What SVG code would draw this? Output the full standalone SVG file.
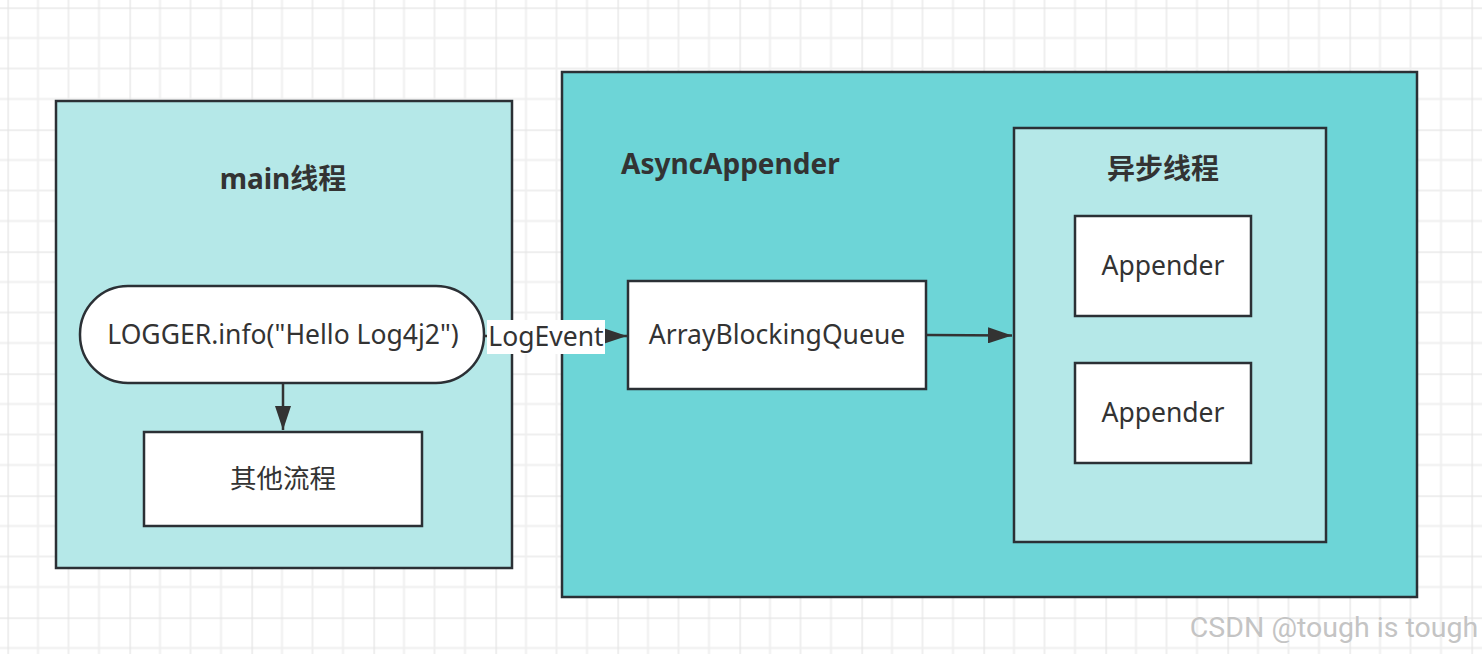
<svg xmlns="http://www.w3.org/2000/svg" width="1482" height="654" viewBox="0 0 1482 654">
<defs>
<pattern id="grid" x="7.5" y="7.5" width="122" height="122" patternUnits="userSpaceOnUse">
<path d="M30.5 0V122M61 0V122M91.5 0V122M0 30.5H122M0 61H122M0 91.5H122" stroke="#efefef" stroke-width="2" fill="none"/>
<path d="M0 0V122M0 0H122" stroke="#e4e4e4" stroke-width="2.5" fill="none"/>
</pattern>
<marker id="ahb" viewBox="0 0 24 16" refX="24" refY="8" markerWidth="24" markerHeight="16" markerUnits="userSpaceOnUse" orient="auto">
<path d="M0 0L24 8L0 16Z" fill="#333"/>
</marker>
<style>
.box{stroke:#2b3035;stroke-width:2.5}
.w{fill:#fff}
.lc{fill:#b5e8e8}
.tc{fill:#6dd5d7}
.t{font-family:"Microsoft YaHei","Noto Sans","Noto Sans CJK SC",sans-serif;font-size:26.5px;fill:#333;text-anchor:middle;dominant-baseline:central}
.b{font-weight:bold;font-size:28px}
.line{stroke:#333;stroke-width:2.5;fill:none}
</style>
</defs>
<rect width="1482" height="654" fill="#fff"/>
<rect width="1482" height="654" fill="url(#grid)"/>
<g id="main-thread">
<rect class="box lc" x="56" y="101" width="456" height="467"/>
<text class="t b" x="283" y="178">main线程</text>
</g>
<g id="logger-call">
<rect class="box w" x="80" y="286" width="404" height="97" rx="48" ry="48"/>
<text class="t" x="283" y="334">LOGGER.info("Hello Log4j2")</text>
</g>
<g id="other-flow">
<rect class="box w" x="144" y="432" width="278" height="94"/>
<text class="t" x="283" y="478">其他流程</text>
</g>
<g id="async-appender">
<rect class="box tc" x="562" y="72" width="855" height="525"/>
<text class="t b" x="621" y="163" style="text-anchor:start">AsyncAppender</text>
</g>
<g id="array-blocking-queue">
<rect class="box w" x="628" y="281" width="298" height="108"/>
<text class="t" x="777" y="334">ArrayBlockingQueue</text>
</g>
<g id="async-thread">
<rect class="box lc" x="1014" y="128" width="312" height="414"/>
<text class="t b" x="1163" y="168">异步线程</text>
</g>
<g id="appender-1">
<rect class="box w" x="1075" y="216" width="176" height="100"/>
<text class="t" x="1163" y="265">Appender</text>
</g>
<g id="appender-2">
<rect class="box w" x="1075" y="363" width="176" height="100"/>
<text class="t" x="1163" y="412">Appender</text>
</g>
<g id="connectors">
<line class="line" x1="283" y1="384" x2="283" y2="430" marker-end="url(#ahb)"/>
<line class="line" x1="485" y1="336" x2="627" y2="336" marker-end="url(#ahb)"/>
<line class="line" x1="927" y1="335" x2="1012" y2="335.5" marker-end="url(#ahb)"/>
<rect x="487" y="320" width="118" height="34" fill="#fff"/>
<text class="t" x="546" y="336">LogEvent</text>
</g>
<text x="1334" y="627" font-family="Roboto,'Noto Sans',sans-serif" font-size="28.5" fill="#c4c4c4" text-anchor="middle" dominant-baseline="central" stroke="#fff" stroke-width="0.5" paint-order="stroke">CSDN @tough is tough</text>
</svg>
